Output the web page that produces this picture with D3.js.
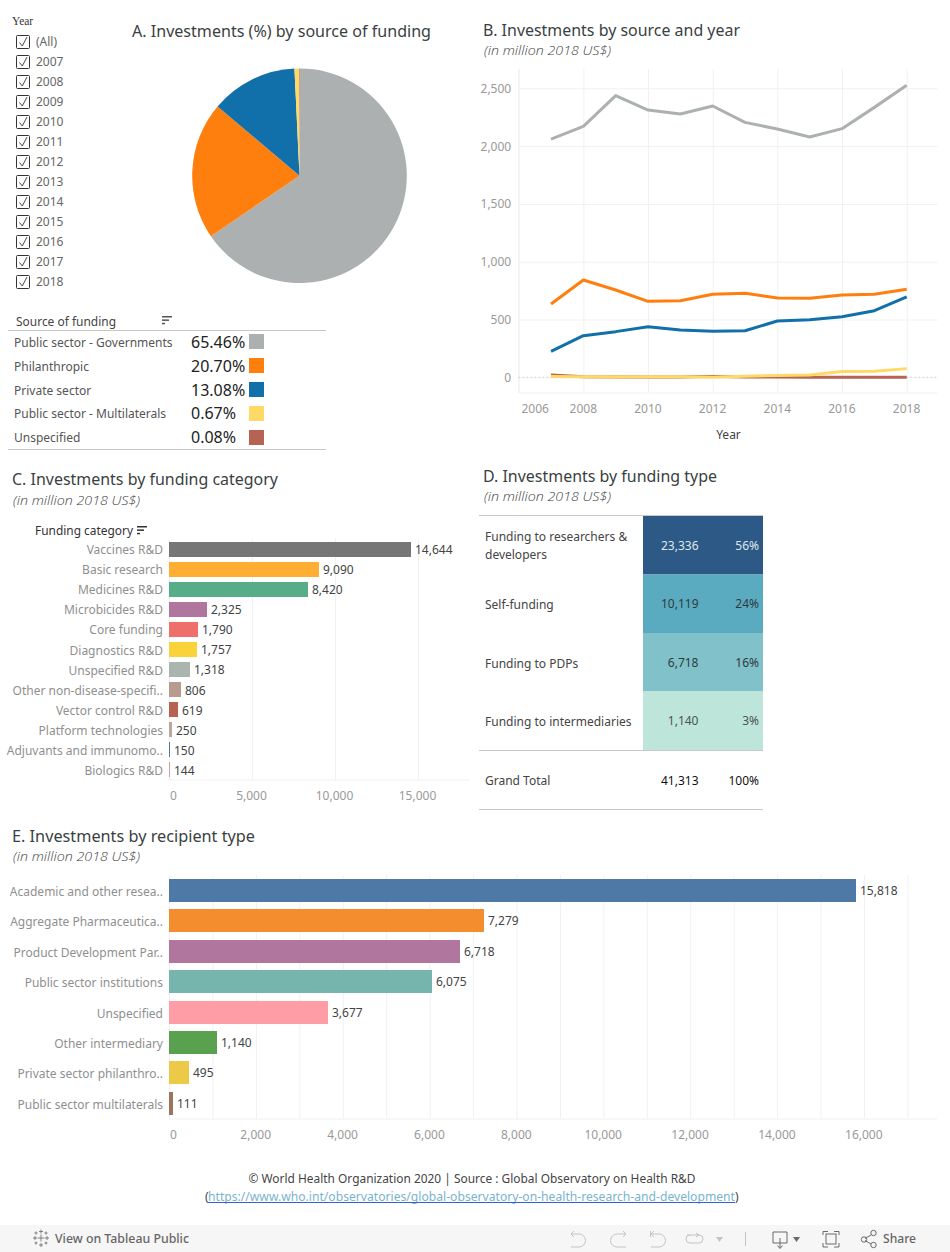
<!DOCTYPE html>
<html><head><meta charset="utf-8">
<script src="https://cdn.jsdelivr.net/npm/d3@7/dist/d3.min.js"></script>
<style>
html,body{margin:0;padding:0;background:#fff;overflow:hidden}
svg{display:block}
text{font-family:"Noto Sans",sans-serif}
</style></head><body><svg id="c" width="950" height="1252"></svg>
<script>
const filterYears = ["(All)","2007","2008","2009","2010","2011","2012","2013","2014","2015","2016","2017","2018"];
const sources = ["Public sector - Governments","Philanthropic","Private sector","Public sector - Multilaterals","Unspecified"];
const sourceShares = [65.46,20.70,13.08,0.67,0.08];
const sourceColors = ["#adb0b0","#ff7f0e","#1170aa","#ffd966","#b66353"];
const years = [2007,2008,2009,2010,2011,2012,2013,2014,2015,2016,2017,2018];
const governments = [2061,2170,2436,2312,2277,2347,2205,2148,2079,2151,2335,2526];
const philanthropic = [634,842,755,657,663,718,727,686,683,712,718,761];
const privateSector = [225,360,395,438,409,398,403,487,498,524,576,695];
const unspecifiedSrc = [20,5,2,2,3,8,2,2,1,1,1,1];
const multilaterals = [6,5,3,4,5,1,10,15,20,50,52,75];
const categories = ["Vaccines R&D","Basic research","Medicines R&D","Microbicides R&D","Core funding","Diagnostics R&D","Unspecified R&D","Other non-disease-specifi..","Vector control R&D","Platform technologies","Adjuvants and immunomo..","Biologics R&D"];
const categoryValues = [14644,9090,8420,2325,1790,1757,1318,806,619,250,150,144];
const categoryColors = ["#767676","#ffae34","#57ad87","#b0769e","#ef6f6a","#fad239","#a9b5ae","#b89b8f","#b66353","#bba79c","#4e79a7","#c7a49c"];
const fundingTypes = [["Funding to researchers &","developers"],["Self-funding"],["Funding to PDPs"],["Funding to intermediaries"]];
const fundingValues = [23336,10119,6718,1140];
const fundingPct = ["56%","24%","16%","3%"];
const fundingColors = ["#2c5985","#5aabc0","#80c1ca","#bde5d9"];
const fundingText = ["#dfe8ee","#2f3b40","#2f3b40","#4a5553"];
const grandTotal = ["41,313","100%"];
const recipients = ["Academic and other resea..","Aggregate Pharmaceutica..","Product Development Par..","Public sector institutions","Unspecified","Other intermediary","Private sector philanthro..","Public sector multilaterals"];
const recipientValues = [15818,7279,6718,6075,3677,1140,495,111];
const recipientColors = ["#4e78a5","#f48d2d","#b0769e","#76b5ae","#ff9da7","#59a14f","#edc948","#9c755f"];

const svg = d3.select("#c");
const fmt = d3.format(",");
const TITLE="#3a3f42", SUB="#444", AX="#999", CAT="#8f8f8f", VAL="#444", GRID="#f1f1f1", RULE="#c8c8c8";
function txt(g,x,y,s,size,fill,opt={}){
  const t=g.append("text").attr("x",x).attr("y",y).attr("font-size",size).attr("fill",fill).text(s);
  if(opt.anchor)t.attr("text-anchor",opt.anchor);
  if(opt.italic)t.attr("font-style","italic");
  if(opt.weight)t.attr("font-weight",opt.weight);
  if(opt.family)t.style("font-family",opt.family);
  if(opt.len)t.attr("textLength",opt.len).attr("lengthAdjust","spacingAndGlyphs");
  return t;
}
function sub(g,x,y){return txt(g,x,y,"(in million 2018 US$)",12.5,SUB,{italic:true,len:127,weight:300,family:'"Open Sans",sans-serif'});}
function sortIcon(g,x,y,c){
  [10,7,3].forEach((w,i)=>g.append("rect").attr("x",x).attr("y",y+i*3.4).attr("width",w).attr("height",1.5).attr("fill",c));
}
function rule(g,x1,x2,y,c=RULE){g.append("line").attr("x1",x1).attr("x2",x2).attr("y1",y).attr("y2",y).attr("stroke",c);}
function styleTicks(sel){sel.selectAll("text").attr("fill",AX).attr("font-size",12).style("font-family",'"Noto Sans"');}

/* Filter */
const f=svg.append("g");
txt(f,12,25,"Year",11.5,"#333",{family:'"Liberation Serif",serif'});
filterYears.forEach((y,i)=>{
  const cy=42+i*20;
  f.append("rect").attr("x",16.5).attr("y",cy-6.5).attr("width",13).attr("height",13).attr("rx",1).attr("fill","#fff").attr("stroke","#333").attr("stroke-width",1);
  f.append("path").attr("d",`M${19.5} ${cy+0.5}L${22.3} ${cy+4}L${27} ${cy-5}`).attr("fill","none").attr("stroke","#333").attr("stroke-width",.9);
  txt(f,36,cy+3.8,y,12,"#666");
});

/* A: pie */
const A=svg.append("g");
txt(A,132,37,"A. Investments (%) by source of funding",15.5,TITLE,{len:299});
const pie=d3.pie().sort(null)(sourceShares);
const arc=d3.arc().innerRadius(0).outerRadius(107.3);
A.append("g").attr("transform","translate(299.5,175.7)").selectAll("path").data(pie).join("path")
  .attr("d",arc).attr("fill",(d,i)=>sourceColors[i]);

/* Legend table */
const L=svg.append("g");
txt(L,16,326,"Source of funding",12,"#444",{len:100});
sortIcon(L,162,316,"#555");
rule(L,8,326,330.5);
rule(L,8,326,449.5);
const ly=d3.scaleBand().domain(sources).range([329.5,449.5]);
sources.forEach((s,i)=>{
  const c=ly(s)+ly.bandwidth()/2;
  txt(L,14,c+5.3-(i>2?.7:0),s,12,"#555");
  txt(L,191,c+6.2-(i>2?.7:0),sourceShares[i].toFixed(2)+"%",16,"#222");
  L.append("rect").attr("x",249).attr("y",c-7.5).attr("width",15).attr("height",15).attr("fill",sourceColors[i]);
});

/* B: lines */
const B=svg.append("g");
txt(B,483,36,"B. Investments by source and year",15.5,TITLE,{len:257});
sub(B,484,55);
const bx=d3.scaleLinear().domain([2006,2018]).range([518.7,906.7]);
const by=d3.scaleLinear().domain([0,2500]).range([377.3,88.3]);
const yTop=69,yBot=393;
const bxAxis=d3.axisBottom(bx).tickValues(d3.range(2006,2019,2)).tickFormat(d3.format("d")).tickSize(-(yBot-yTop)).tickPadding(11);
const gbx=B.append("g").attr("transform",`translate(0,${yBot})`).call(bxAxis);
gbx.select(".domain").attr("stroke",GRID).attr("d","M518.7,0H937.7");
gbx.selectAll("line").attr("stroke",GRID);
styleTicks(gbx);
gbx.selectAll("text").attr("dx",-.6);
gbx.selectAll("text").filter(d=>d===2006).attr("dx",16);
const byAxis=d3.axisLeft(by).tickValues([0,500,1000,1500,2000,2500]).tickFormat(fmt).tickSize(-(937.7-518.7)).tickPadding(7.5);
const gby=B.append("g").attr("transform","translate(518.7,0)").call(byAxis);
gby.select(".domain").attr("stroke",GRID).attr("d",`M0,${yTop}V${yBot}`);
gby.selectAll("line").attr("stroke",GRID);
styleTicks(gby);
gby.selectAll("text").attr("dy","0.34em");
B.append("line").attr("x1",518.7).attr("x2",937.7).attr("y1",by(0)).attr("y2",by(0)).attr("stroke","#bdbdbd").attr("stroke-dasharray","1 3");
const line=d3.line().x((d,i)=>bx(years[i])).y(d=>by(d));
[[governments,0],[philanthropic,1],[privateSector,2],[unspecifiedSrc,4],[multilaterals,3]].forEach(([s,c])=>{
  B.append("path").attr("d",line(s)).attr("fill","none").attr("stroke",sourceColors[c]).attr("stroke-width",3).attr("stroke-linejoin","round");
});
txt(B,728.5,439,"Year",12,"#444",{anchor:"middle"});

/* C: bars */
const C=svg.append("g");
txt(C,12,485,"C. Investments by funding category",15.5,TITLE,{len:266});
sub(C,13,505);
txt(C,35,535,"Funding category",12,"#333",{len:98});
sortIcon(C,137,526,"#333");
const cx=d3.scaleLinear().domain([0,15000]).range([169,418]);
const cy=d3.scaleBand().domain(categories).range([539.5,779.5]).paddingInner(.25).paddingOuter(.125);
const cAxis=d3.axisBottom(cx).tickValues([0,5000,10000,15000]).tickFormat(fmt).tickSize(-241).tickPadding(11);
const gc=C.append("g").attr("transform","translate(0,780)").call(cAxis);
gc.select(".domain").attr("stroke",GRID).attr("d","M169,0H470");
gc.selectAll("line").attr("stroke",GRID);
styleTicks(gc);
gc.selectAll("text").attr("dx",-1);
gc.selectAll("text").filter(d=>d===0).attr("dx",4);
const cw=v=>Math.max(1,Math.round(cx(v)-cx(0)-1));
C.selectAll("rect.b").data(categories).join("rect").attr("class","b")
  .attr("x",cx(0)).attr("y",d=>cy(d)).attr("height",cy.bandwidth())
  .attr("width",(d,i)=>cw(categoryValues[i])).attr("fill",(d,i)=>categoryColors[i]);
categories.forEach((c,i)=>{
  const m=cy(c)+cy.bandwidth()/2;
  txt(C,163,m+(i>=5?5.5:4.5),c,12,CAT,{anchor:"end"});
  txt(C,cx(0)+cw(categoryValues[i])+4,m+(i>=7?5:4.5),fmt(categoryValues[i]),12,VAL);
});

/* D: table */
const D=svg.append("g");
txt(D,483,482,"D. Investments by funding type",15.5,TITLE,{len:234});
sub(D,484,501);
const dy=d3.scaleBand().domain(d3.range(fundingValues.length)).range([516,750]);
rule(D,479,763,515.5);
fundingValues.forEach((v,i)=>{
  const y=dy(i),m=y+dy.bandwidth()/2;
  D.append("rect").attr("x",643).attr("y",y).attr("width",120).attr("height",dy.bandwidth()).attr("fill",fundingColors[i]);
  const lines=fundingTypes[i];
  lines.forEach((l,j)=>txt(D,485,m+(lines.length>1?4.5:5.3)+(j-(lines.length-1)/2)*18,l,12,"#444"));
  txt(D,698.5,m+4.6,fmt(v),12,fundingText[i],{anchor:"end"});
  txt(D,759,m+4.6,fundingPct[i],12,fundingText[i],{anchor:"end"});
});
rule(D,479,763,750.5);
txt(D,485,785,"Grand Total",12,"#444");
txt(D,698.5,785,grandTotal[0],12,"#111",{anchor:"end"});
txt(D,759,785,grandTotal[1],12,"#111",{anchor:"end"});
rule(D,479,763,809.5);

/* E: bars */
const E=svg.append("g");
txt(E,12,842,"E. Investments by recipient type",15.5,TITLE,{len:243});
sub(E,13,861);
const ex=d3.scaleLinear().domain([0,16000]).range([169,864]);
const ey=d3.scaleBand().domain(recipients).range([875.35,1118.55]).paddingInner(.243).paddingOuter(.12);
const eAxis=d3.axisBottom(ex).tickValues(d3.range(0,18000,1000)).tickFormat(d=>d%2000===0?fmt(d):"").tickSize(-244).tickPadding(11);
const ge=E.append("g").attr("transform","translate(0,1119)").call(eAxis);
ge.select(".domain").attr("stroke",GRID).attr("d","M169,0H937");
ge.selectAll("line").attr("stroke",GRID);
styleTicks(ge);
ge.selectAll("text").attr("dx",-.7);
ge.selectAll("text").filter(d=>d===0).attr("dx",4);
const ew=v=>Math.round(ex(v)-ex(0)-.1);
E.selectAll("rect.b").data(recipients).join("rect").attr("class","b")
  .attr("x",ex(0)).attr("y",d=>Math.round(ey(d))).attr("height",23)
  .attr("width",(d,i)=>ew(recipientValues[i])-(i?1:0)).attr("fill",(d,i)=>recipientColors[i]);
recipients.forEach((c,i)=>{
  const m=Math.round(ey(c))+11.5;
  txt(E,163,m+5.2,c,12,CAT,{anchor:"end"});
  txt(E,ex(0)+ew(recipientValues[i])-(i?1:0)+4,m+4.4,fmt(recipientValues[i]),12,VAL);
});

/* Footer */
const Ft=svg.append("g");
txt(Ft,472,1183,"© World Health Organization 2020 | Source : Global Observatory on Health R&D",12,"#444",{anchor:"middle",len:447});
txt(Ft,205,1201,"(",12,"#444");
txt(Ft,208,1201,"https://www.who.int/observatories/global-observatory-on-health-research-and-development",12,"#7ab3cf",{len:527});
Ft.append("line").attr("x1",208).attr("x2",735).attr("y1",1202.5).attr("y2",1202.5).attr("stroke","#2f62d9").attr("stroke-width",1);
txt(Ft,735,1201,")",12,"#444");

/* Toolbar */
const T=svg.append("g");
T.append("rect").attr("x",0).attr("y",1225).attr("width",950).attr("height",27).attr("fill","#f6f6f6");
const ic="#6a6a6a", dim="#c4c4c4";
const st=(d,c=ic,w=1)=>T.append("path").attr("d",d).attr("fill","none").attr("stroke",c).attr("stroke-width",w);
[[41,1238,3.5],[35,1238,2],[47,1238,2],[41,1231.5,2],[41,1245,2],[36,1233,1.5],[46,1233,1.5],[36,1243,1.5],[46,1243,1.5]].forEach(([x,y,r])=>{
  st(`M${x-r} ${y}H${x+r}M${x} ${y-r}V${y+r}`,"#777",.9);
});
txt(T,55,1243,"View on Tableau Public",12.5,"#666",{weight:500,len:134});
st("M571 1234H579a6.5 6.5 0 0 1 0 13H571M571 1234l3-3M571 1234l3 3",dim);
st("M626 1234H617a6.5 6.5 0 0 0 0 13H626M626 1234l-3-3M626 1234l-3 3",dim);
st("M650.5 1231v6M651 1234H659a6.5 6.5 0 0 1 0 13H651M651 1234l3-3M651 1234l3 3",dim);
st("M687 1235H699a3.5 3.5 0 0 1 0 8H690a3.5 3.5 0 0 1 0-8M699 1235l-3-2M699 1235l-3 2",dim);
T.append("path").attr("d","M716 1237h7l-3.5 5z").attr("fill",dim);
st("M745.5 1232V1246",dim);
st("M773 1243V1232H787V1243H773M780 1238V1248M777.5 1245.5l2.5 3 2.5-3",ic);
T.append("path").attr("d","M793 1237h7l-3.5 5z").attr("fill",ic);
st("M823 1235V1231.5H828M834 1231.5H839V1235M839 1243V1247H834M828 1247H823V1243",ic);
T.append("rect").attr("x",826).attr("y",1234).attr("width",10).attr("height",10).attr("fill","none").attr("stroke",ic);
st("M865 1238.5L871 1235M865 1240.5L871 1244",ic);
[[864,1239.5],[873.5,1233],[873.5,1245]].forEach(([x,y])=>T.append("circle").attr("cx",x).attr("cy",y).attr("r",2.7).attr("fill","none").attr("stroke",ic));
txt(T,883,1243,"Share",12.5,"#666",{weight:500,len:33});
</script></body></html>
